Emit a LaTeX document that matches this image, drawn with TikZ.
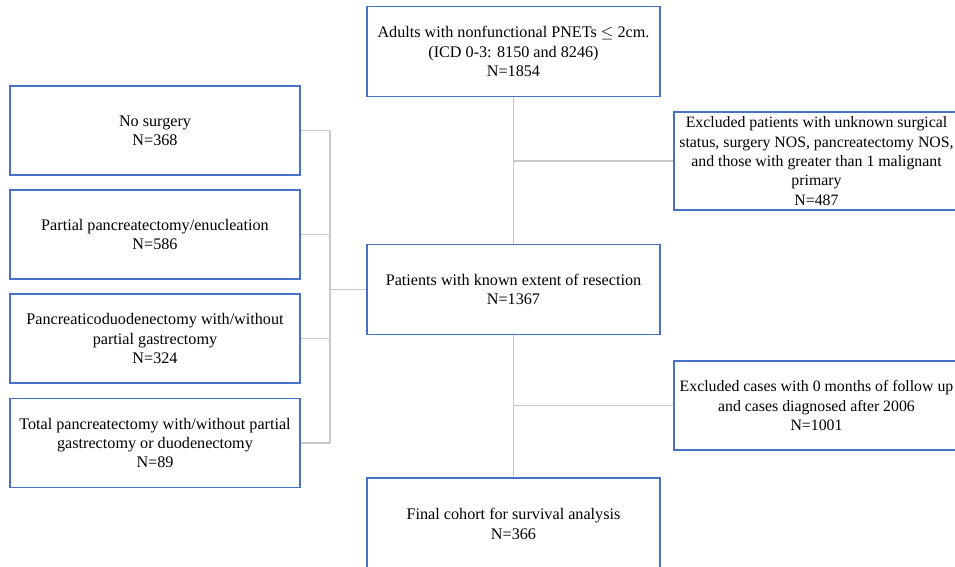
\documentclass[tikz,border=0pt]{standalone}
\usepackage{fontspec}
\setmainfont{Liberation Serif}
\usetikzlibrary{positioning}
\definecolor{boxblue}{RGB}{72,112,200}
\definecolor{linegray}{RGB}{200,200,200}
\tikzstyle{block} = [draw=boxblue, line width=1.1pt, fill=white, rectangle, align=center, inner sep=2pt, font=\fontsize{9.2}{11}\selectfont]
\tikzstyle{main} = [block, minimum width=5.86cm, minimum height=1.8cm]
\tikzstyle{side} = [block, minimum width=5.8cm, minimum height=1.78cm]
\tikzstyle{excl} = [block, minimum width=5.7cm, font=\fontsize{9}{11}\selectfont]
\tikzstyle{link} = [draw=linegray, line width=0.7pt]

\begin{document}
\begin{tikzpicture}[x=0.02cm, y=-0.02cm]
    \useasboundingbox (0,0) rectangle (955,566);
    \clip (0,0) rectangle (955,566);

    \node (start) [main] at (513.5,51.5) {Adults with nonfunctional PNETs $\leq$ 2cm.\\(ICD 0-3: 8150 and 8246)\\N=1854};
    \node (known) [main] at (513.5,289.5) {Patients with known extent of resection\\N=1367};
    \node (final) [main, minimum height=1.84cm] at (513.5,524) {Final cohort for survival analysis\\N=366};
    \node (excl 1) [excl, minimum height=1.96cm] at (816.5,161) {Excluded patients with unknown surgical\\status, surgery NOS, pancreatectomy NOS,\\and those with greater than 1 malignant\\primary\\N=487};
    \node (excl 2) [excl, minimum height=1.78cm] at (816.5,405.5) {Excluded cases with 0 months of follow up\\and cases diagnosed after 2006\\N=1001};

    \node (surg 1) [side] at (155,130.5) {No surgery\\N=368};
    \node (surg 2) [side] at (155,234.5) {Partial pancreatectomy/enucleation\\N=586};
    \node (surg 3) [side] at (155,338.5) {Pancreaticoduodenectomy with/without\\partial gastrectomy\\N=324};
    \node (surg 4) [side] at (155,443) {Total pancreatectomy with/without partial\\gastrectomy or duodenectomy\\N=89};

    \coordinate (split 1) at (start.south |- excl 1.west);
    \coordinate (split 2) at (known.south |- excl 2.west);
    \coordinate (bus) at (330,289.5);

    % Connectors.
    \draw [link] (start) -- (known);
    \draw [link] (known) -- (final);
    \draw [link] (split 1) -- (excl 1);
    \draw [link] (split 2) -- (excl 2);

    \foreach \i in {1, 2, 3, 4} {%
        \draw [link] (surg \i.east) -- (surg \i.east -| bus);
    }
    \draw [link] (surg 1.east -| bus) -- (surg 4.east -| bus);
    \draw [link] (bus) -- (known);
\end{tikzpicture}
\end{document}
